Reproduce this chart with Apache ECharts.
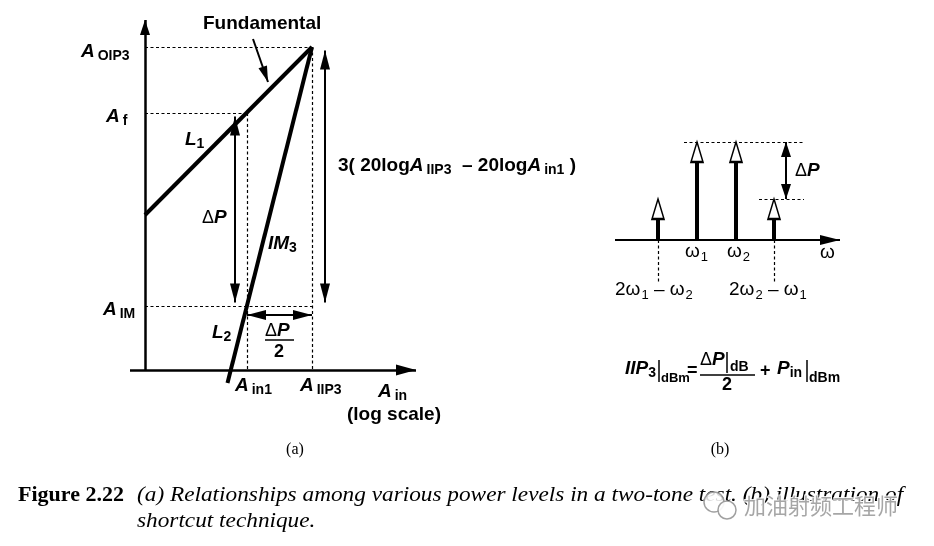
<!DOCTYPE html>
<html><head><meta charset="utf-8">
<script src="https://cdn.jsdelivr.net/npm/echarts@6/dist/echarts.min.js"></script>
<style>html,body{margin:0;padding:0;background:#fff}#c{width:934px;height:546px}</style>
</head><body><div id="c"></div>
<script>
// ---------- Panel (a): x = input level (log scale), y = output level (dB), arbitrary units
const fundamentalLine = [[0, 15.5], [16.7, 32.3]];
const im3Line = [[8.25, -1.3], [16.7, 32.3]];
const outLevelNames = ['OIP3', 'f', 'IM'];
const outLevelValues = [32.3, 25.7, 6.4];
const inLevelNames = ['in1', 'IIP3'];
const inLevelValues = [10.2, 16.7];
const axisAX = [-1.5, 27.1];
const axisAY = [0, 35];

// ---------- Panel (b): spectrum of two-tone test
const toneFreqs = [5.8, 9.7, 13.6, 17.4];
const toneLevels = [4.1, 9.8, 9.8, 4.1];
const axisBX = [1.5, 24];
const belowAxisDash = -4.2;

const SANS = '"Liberation Sans", Arial, sans-serif';
const SERIF = '"Liberation Serif", "Times New Roman", serif';

function arrow(a, b, both, size, w) {
  size = size || [10, 18];
  return [
    {coord: a, symbol: both ? 'triangle' : 'none', symbolSize: size, symbolOffset: [0, '50%'],
     lineStyle: {width: w || 2, type: 'solid', color: '#000'}},
    {coord: b, symbol: 'triangle', symbolSize: size, symbolOffset: [0, '50%']}
  ];
}
function seg(a, b, w) {
  return [{coord: a, symbol: 'none', lineStyle: {width: w || 2, type: 'solid', color: '#000'}}, {coord: b, symbol: 'none'}];
}
function dash(a, b) {
  return [{coord: a, symbol: 'none', lineStyle: {width: 1.2, type: [3, 2.5], color: '#000'}}, {coord: b, symbol: 'none'}];
}
function carrier(gi, data) {
  return {type: 'line', xAxisIndex: gi, yAxisIndex: gi, data: [], silent: true, animation: false,
    markLine: {silent: true, animation: false, symbol: 'none', label: {show: false},
      emphasis: {disabled: true}, lineStyle: {color: '#000'}, data: data}};
}

// ----- panel (a) marks
const [yOIP3, yF, yIM] = outLevelValues;
const [xIn1, xIIP3] = inLevelValues;
const gap = 0.35;
const marksA = [
  arrow([0, axisAY[0]], [0, axisAY[1]], false, [10, 15], 2.5),
  arrow([axisAX[0], 0], [axisAX[1], 0], false, [11, 20], 2.5),
  dash([0, yOIP3], [xIIP3, yOIP3]),
  dash([0, yF], [xIn1, yF]),
  dash([0, yIM], [xIIP3, yIM]),
  dash([xIn1, yF], [xIn1, 0]),
  dash([xIIP3, yOIP3], [xIIP3, 0]),
  arrow([9.0, yF - gap], [9.0, yIM + gap], true, [10, 19]),
  arrow([18.0, yOIP3 - gap], [18.0, yIM + gap], true, [10, 19]),
  arrow([xIn1, 5.5], [xIIP3, 5.5], true, [10, 19]),
  arrow([10.8, 33.1], [12.3, 28.8], false, [9, 16])
];

// ----- panel (b) marks
const marksB = [
  arrow([axisBX[0], 0], [axisBX[1], 0], false, [10, 20], 2),
  dash([8.4, toneLevels[1]], [20.4, toneLevels[1]]),
  dash([15.9, toneLevels[3]], [20.4, toneLevels[3]]),
  dash([toneFreqs[0], 0], [toneFreqs[0], belowAxisDash]),
  dash([toneFreqs[3], 0], [toneFreqs[3], belowAxisDash]),
  arrow([18.6, toneLevels[1]], [18.6, toneLevels[3]], true, [10, 15])
].concat(toneFreqs.map((f, i) => seg([f, 0], [f, toneLevels[i] - 1.0], 4)));

// ----- texts
const rich = {
  a: {font: 'italic bold 19px ' + SANS},
  n: {font: 'bold 19px ' + SANS},
  s: {font: 'bold 14px ' + SANS, padding: [8, 0, 0, 3]},
  s0: {font: 'bold 14px ' + SANS, padding: [8, 0, 0, 0]},
  g: {font: '18px ' + SANS},
  w: {font: '19px ' + SANS},
  ws: {font: '13px ' + SANS, padding: [10, 0, 0, 1]},
  d: {font: 'bold 14px ' + SANS}
};
function T(x, y, text, font, align, sx) {
  return {type: 'text', x: x, y: y, scaleX: sx || 1, silent: true, z: 100,
    style: {text: text, font: font || ('bold 17px ' + SANS), fill: '#000', rich: rich,
      align: align || 'left', verticalAlign: 'middle', textAlign: align || 'left', textVerticalAlign: 'middle'}};
}
function L(x1, y1, x2, y2, w) {
  return {type: 'line', silent: true, z: 100, shape: {x1: x1, y1: y1, x2: x2, y2: y2}, style: {stroke: '#000', lineWidth: w || 1.5}};
}

const graphics = [
  T(203, 24, 'Fundamental', 'bold 19px ' + SANS),
  T(81, 52, '{a|A}{s|' + outLevelNames[0] + '}'),
  T(106, 117, '{a|A}{s|' + outLevelNames[1] + '}'),
  T(103, 310, '{a|A}{s|' + outLevelNames[2] + '}'),
  T(185, 140, '{a|L}{s0|1}'),
  T(212, 333, '{a|L}{s0|2}'),
  T(202, 218, '{g|Δ}{a|P}'),
  T(268, 244, '{a|IM}{s0|3}'),
  T(265, 331, '{g|Δ}{a|P}'),
  L(265, 340, 294, 340, 1.5),
  T(279, 352, '2', 'bold 18px ' + SANS, 'center'),
  T(235, 386, '{a|A}{s|' + inLevelNames[0] + '}'),
  T(300, 386, '{a|A}{s|' + inLevelNames[1] + '}'),
  T(378, 392, '{a|A}{s|in}'),
  T(347, 415, '(log scale)', 'bold 19px ' + SANS),
  T(338, 166, '{n|3( 20log}{a|A}{s|IIP3}{n|  – 20log}{a|A}{s|in1}{n| )}'),
  // panel b
  T(685, 252, '{w|ω}{ws|1}'),
  T(727, 252, '{w|ω}{ws|2}'),
  T(820, 253, '{w|ω}'),
  T(615, 290, '{w|2ω}{ws|1}{w| – ω}{ws|2}'),
  T(729, 290, '{w|2ω}{ws|2}{w| – ω}{ws|1}'),
  T(795, 171, '{g|Δ}{a|P}'),
  // formula
  T(625, 369, '{a|IIP}{s0|3}'),
  L(659, 360, 659, 382, 1.5),
  T(661, 378, 'dBm', 'bold 13px ' + SANS),
  T(687, 371, '=', 'bold 18px ' + SANS),
  T(700, 360, '{g|Δ}{a|P}'),
  L(727, 352, 727, 373, 1.5),
  T(730, 367, 'dB', 'bold 14px ' + SANS),
  L(700, 375, 755, 375, 1.5),
  T(727, 385, '2', 'bold 18px ' + SANS, 'center'),
  T(760, 371, '+', 'bold 18px ' + SANS),
  T(777, 369, '{a|P}{s0|in}'),
  L(807, 360, 807, 382, 1.5),
  T(809, 378, 'dBm', 'bold 14px ' + SANS),
  // sub-captions
  T(295, 450, '(a)', '16px ' + SERIF, 'center'),
  T(720, 450, '(b)', '16px ' + SERIF, 'center'),
  T(18, 495, 'Figure 2.22', 'bold 22px ' + SERIF),
  T(137, 495, '(a) Relationships among various power levels in a two-tone test. (b) illustration of', 'italic 22px ' + SERIF, 'left', 1.058),
  T(137, 521, 'shortcut technique.', 'italic 22px ' + SERIF, 'left', 1.058),
  // watermark
  {type: 'circle', silent: true, z: 108, shape: {cx: 714, cy: 502, r: 10},
    style: {fill: 'rgba(255,255,255,0.85)', stroke: 'rgba(150,150,150,0.9)', lineWidth: 1.5}},
  {type: 'circle', silent: true, z: 109, shape: {cx: 727, cy: 510, r: 9},
    style: {fill: 'rgba(255,255,255,0.9)', stroke: 'rgba(150,150,150,0.9)', lineWidth: 1.5}},
  {type: 'text', x: 744, y: 506, silent: true, z: 110,
    style: {text: '加油射频工程师', font: '22px "Noto Sans CJK SC"', fill: 'rgba(150,150,150,0.85)',
      stroke: 'rgba(255,255,255,0.9)', lineWidth: 2, align: 'left', verticalAlign: 'middle', textAlign: 'left', textVerticalAlign: 'middle'}}
];

const chart = echarts.init(document.getElementById('c'));
chart.setOption({
  animation: false,
  backgroundColor: '#fff',
  grid: [
    {left: 115, top: 20, width: 330, height: 370},
    {left: 600, top: 120, width: 260, height: 170}
  ],
  xAxis: [
    {gridIndex: 0, type: 'value', min: -3, max: 30, show: false},
    {gridIndex: 1, type: 'value', min: 0, max: 26, show: false}
  ],
  yAxis: [
    {gridIndex: 0, type: 'value', min: -2, max: 35, show: false},
    {gridIndex: 1, type: 'value', min: -5, max: 12, show: false}
  ],
  series: [
    {type: 'line', xAxisIndex: 0, yAxisIndex: 0, data: fundamentalLine, symbol: 'none', silent: true,
      lineStyle: {width: 4, color: '#000'}, z: 3},
    {type: 'line', xAxisIndex: 0, yAxisIndex: 0, data: im3Line, symbol: 'none', silent: true,
      lineStyle: {width: 4, color: '#000'}, z: 3},
    carrier(0, marksA),
    carrier(1, marksB),
    {type: 'scatter', xAxisIndex: 1, yAxisIndex: 1, silent: true, z: 5,
      data: toneFreqs.map((f, i) => [f, toneLevels[i]]),
      symbol: 'triangle', symbolSize: [12, 20], symbolOffset: [0, '50%'],
      itemStyle: {color: '#fff', borderColor: '#000', borderWidth: 1.8, opacity: 1}}
  ],
  graphic: graphics
});
</script></body></html>
